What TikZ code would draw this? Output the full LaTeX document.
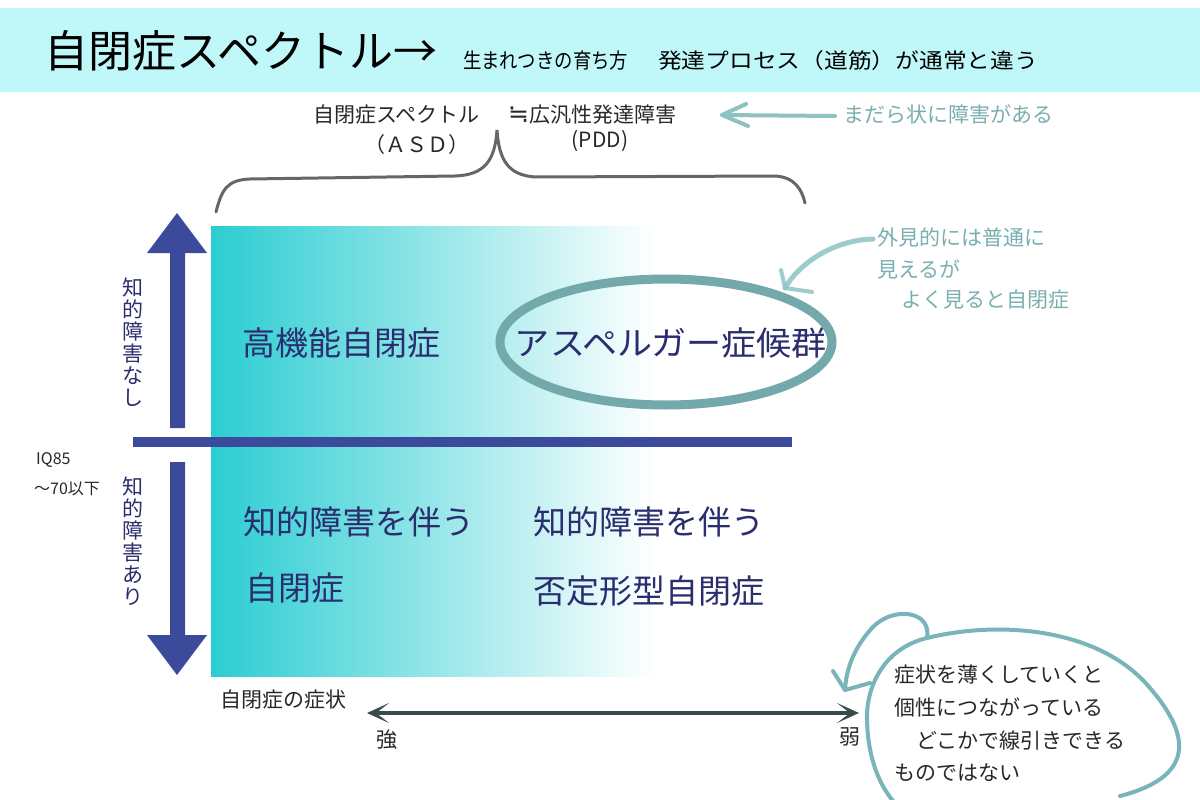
\documentclass[tikz,border=0pt]{standalone}
\usepackage{fontspec}
\setmainfont{Noto Sans CJK JP}
\newfontfamily\symfont{DejaVu Sans}
\usetikzlibrary{arrows.meta}
\definecolor{banner}{RGB}{192,248,250}
\definecolor{navy}{RGB}{59,74,154}
\definecolor{navytext}{RGB}{42,45,110}
\definecolor{cy}{RGB}{43,205,210}
\definecolor{ellc}{RGB}{116,169,171}
\definecolor{tealtext}{RGB}{122,175,175}
\definecolor{tealline}{RGB}{142,194,194}
\definecolor{blobc}{RGB}{120,180,184}
\definecolor{bracec}{RGB}{102,102,102}
\definecolor{slate}{RGB}{58,73,76}
\definecolor{darktext}{RGB}{40,40,40}
\newcommand{\fs}[1]{\fontsize{#1}{#1}\selectfont}
\tikzset{
  big/.style={font=\fs{33}, text=navytext, inner sep=0pt},
  mid/.style={font=\fs{21}, text=darktext, inner sep=0pt},
  tealt/.style={font=\fs{21}, text=tealtext, inner sep=0pt},
  vert/.style={font=\fontsize{21}{22}\selectfont, text=navytext, align=center, inner sep=0pt},
  small/.style={font=\fs{16}, text=darktext, inner sep=0pt, anchor=west},
  axhead/.tip={Stealth[length=22pt,width=20pt,inset=13pt]},
}
\begin{document}
\begin{tikzpicture}[x=1pt,y=-1pt]
\useasboundingbox (0,0) rectangle (1200,800);
\fill[white] (0,0) rectangle (1200,800);
% banner
\fill[banner] (0,8) rectangle (1200,92);
\node[anchor=west, font=\fs{44}, text=black, inner sep=0pt] (title) at (44,51) {自閉症スペクトル→};
\node[anchor=west, font=\fs{21}, text=black, inner sep=0pt] (sub1) at (463,61) {\resizebox{165pt}{\height}{生まれつきの育ち方}};
\node[anchor=west, font=\fs{21}, text=black, inner sep=0pt] (sub2) at (658,61) {\resizebox{380pt}{\height}{発達プロセス（道筋）が通常と違う}};
% ASD / PDD
\node[mid, anchor=west] (asd) at (313,115) {自閉症スペクトル};
\node[mid, anchor=west] (pdd) at (508,115) {{\symfont\fontsize{25}{25}\selectfont ≒}広汎性発達障害};
\node[mid] (asdab) at (417,145) {（ＡＳＤ）};
\node[mid] (pddab) at (600,141) {(PDD)};
% teal arrow to mottled note
\node[tealt, anchor=west] (madara) at (843,114) {まだら状に障害がある};
\coordinate (ta1) at (835,116);
\coordinate (ta2) at (722,115);
\draw[tealline, line width=4, line cap=round] (ta1) -- (ta2);
\draw[tealline, line width=4, line cap=round, line join=round] (746,104) -- (ta2) -- (748,126);
% brace
\draw[bracec, line width=3, line cap=round] (216,212) .. controls (222,188) and (228,180) .. (250,179) -- (455,176) .. controls (485,175) and (495,160) .. (497,130) .. controls (499,160) and (508,175) .. (535,177) -- (775,176) .. controls (795,177) and (802,190) .. (805,203);
% gradient region
\shade[left color=cy, right color=white] (211,226) rectangle (655,676);
% IQ bar
\fill[navy] (133,437) rectangle (792,447);
% arrows
\fill[navy] (177,213) -- (207,253) -- (185,253) -- (185,428) -- (170,428) -- (170,253) -- (147,253) -- cycle;
\fill[navy] (170,462) -- (185,462) -- (185,635) -- (207,635) -- (177,675) -- (147,635) -- (170,635) -- cycle;
\node[vert] (nashi) at (133,342) {知\\的\\障\\害\\な\\し};
\node[vert] (ari) at (133,541) {知\\的\\障\\害\\あ\\り};
\node[small] (iq) at (36,460) {IQ85};
\node[small] (iq2) at (34,489) {～70以下};
% main labels
\node[big, anchor=west] (hfa) at (242,343) {高機能自閉症};
\node[big] (asp) at (671,343) {\resizebox{312pt}{\height}{アスペルガー症候群}};
\draw[ellc, line width=9] (666,342) ellipse [x radius=166, y radius=63];
\node[big, anchor=west] (id1) at (243,522) {知的障害を伴う};
\node[big, anchor=west] (id2) at (245,588) {自閉症};
\node[big, anchor=west] (id3) at (533,522) {知的障害を伴う};
\node[big, anchor=west] (id4) at (533,591) {否定形型自閉症};
% appearance note
\node[tealt, anchor=west] (ap1) at (877,237) {外見的には普通に};
\node[tealt, anchor=west] (ap2) at (877,269) {見えるが};
\node[tealt, anchor=west] (ap3) at (901,300) {よく見ると自閉症};
\coordinate (ca1) at (873,239);
\coordinate (ca2) at (785,288);
\draw[tealline, line width=5, line cap=round, opacity=0.85] (ca1) .. controls (835,240) and (800,262) .. (ca2);
\draw[tealline, line width=4, line cap=round, line join=round, opacity=0.85] (781,270) -- (ca2) -- (812,292);
% symptom axis
\node[mid, anchor=west] (sym) at (220,700) {自閉症の症状};
\coordinate (sL) at (367,713);
\coordinate (sR) at (859,713);
\draw[slate, line width=4, axhead-axhead] (sL) -- (sR);
\node[mid] (strong) at (387,740) {強};
\node[mid] (weak) at (850,737) {弱};
% blob note
\node[mid, anchor=west] (b1) at (894,675) {症状を薄くしていくと};
\node[mid, anchor=west] (b2) at (894,707) {個性につながっている};
\node[mid, anchor=west] (b3) at (916,741) {どこかで線引きできる};
\node[mid, anchor=west] (b4) at (894,773) {ものではない};
\coordinate (bj) at (927,638);
\coordinate (btip) at (845,690);
\draw[blobc, line width=4, line cap=round] (bj) .. controls (1000,620) and (1100,628) .. (1150,688) .. controls (1195,740) and (1190,778) .. (1120,796);
\draw[blobc, line width=4, line cap=round] (bj) .. controls (885,648) and (866,685) .. (867,720) .. controls (868,760) and (880,785) .. (893,801);
\draw[blobc, line width=4, line cap=round] (bj) .. controls (932,610) and (892,606) .. (872,628) .. controls (852,650) and (846,672) .. (btip);
\draw[blobc, line width=4, line cap=round, line join=round] (833,671) -- (btip) -- (870,683);
\end{tikzpicture}
\end{document}
